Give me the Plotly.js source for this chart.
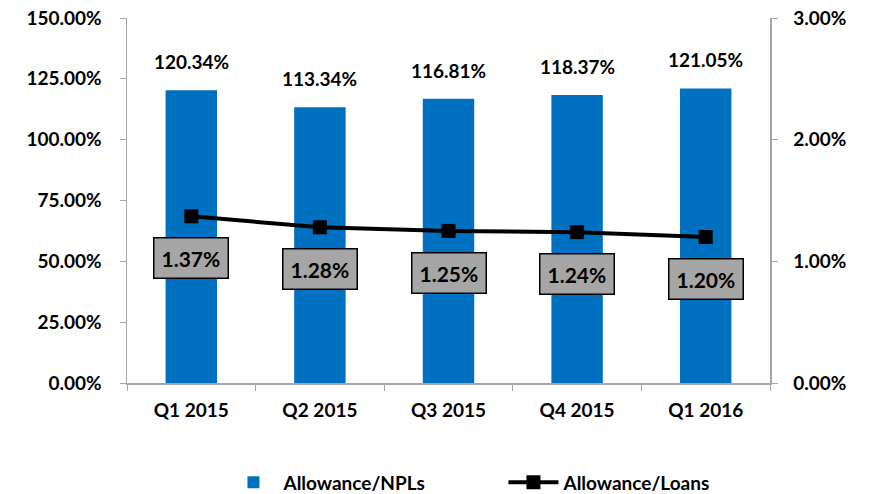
<!DOCTYPE html>
<html><head><meta charset="utf-8">
<script src="https://cdn.plot.ly/plotly-3.0.1.min.js"></script>
<style>html,body{margin:0;padding:0;background:#fff}#c{width:872px;height:494px}</style>
</head><body><div id="c"></div>
<script>
const categories = ["Q1 2015","Q2 2015","Q3 2015","Q4 2015","Q1 2016"];
const allowanceNPLs = [120.34,113.34,116.81,118.37,121.05];
const allowanceLoans = [1.37,1.28,1.25,1.24,1.20];
const leftTicks = [0,25,50,75,100,125,150];
const rightTicks = [0,1,2,3];

const FONT = "Lato, 'Open Sans', sans-serif";
const FS = 19;
const fmt = v => v.toFixed(2) + "%";
const bold = {family:FONT, size:FS, color:"#000", weight:"bold"};

const traces = [
  {type:"bar", x:categories, y:allowanceNPLs, name:"Allowance/NPLs",
   marker:{color:"#0070c0"}, hoverinfo:"none"},
  {type:"scatter", mode:"lines+markers", x:categories, y:allowanceLoans, yaxis:"y2",
   name:"Allowance/Loans", line:{color:"#000", width:4},
   marker:{symbol:"square", size:14, color:"#000"}, hoverinfo:"none"}
];

const barLabels = categories.map((c,i)=>({
  x:c, y:allowanceNPLs[i], xref:"x", yref:"y", yanchor:"bottom", yshift:15, showarrow:false,
  text:"<b>"+fmt(allowanceNPLs[i])+"</b>", font:bold
}));
const lineLabels = categories.map((c,i)=>({
  x:c, y:allowanceLoans[i], xref:"x", yref:"y2", yshift:-42, showarrow:false,
  text:"<b>"+fmt(allowanceLoans[i])+"</b>", font:{family:FONT, size:21, color:"#000", weight:"bold"},
  bgcolor:"#a6a6a6", bordercolor:"#000", borderwidth:1.5, borderpad:7
}));

const axisCommon = {showgrid:false, zeroline:false, showline:true, linecolor:"#a6a6a6",
  linewidth:1.5, ticks:"outside", ticklen:6, tickcolor:"#a6a6a6", tickfont:bold};

const layout = {
  width:872, height:494, margin:{l:127, r:102, t:18, b:111, autoexpand:false},
  paper_bgcolor:"#fff", plot_bgcolor:"#fff", bargap:0.6, showlegend:true,
  font:{family:FONT, size:FS, color:"#000"},
  xaxis:Object.assign({}, axisCommon, {type:"category", tickson:"boundaries", fixedrange:true,
    ticklabelstandoff:10}),
  yaxis:Object.assign({}, axisCommon, {range:[0,150], tickvals:leftTicks, ticktext:leftTicks.map(fmt),
    ticklabelstandoff:14}),
  yaxis2:Object.assign({}, axisCommon, {range:[0,3], tickvals:rightTicks, ticktext:rightTicks.map(fmt),
    overlaying:"y", side:"right", ticklabelstandoff:12}),
  legend:{orientation:"h", x:0.15, xanchor:"left", y:-0.22, yanchor:"top",
    font:bold, entrywidth:215, entrywidthmode:"pixels", itemwidth:50},
  annotations:barLabels.concat(lineLabels)
};
Plotly.newPlot("c", traces, layout, {displayModeBar:false, staticPlot:true});
</script></body></html>
